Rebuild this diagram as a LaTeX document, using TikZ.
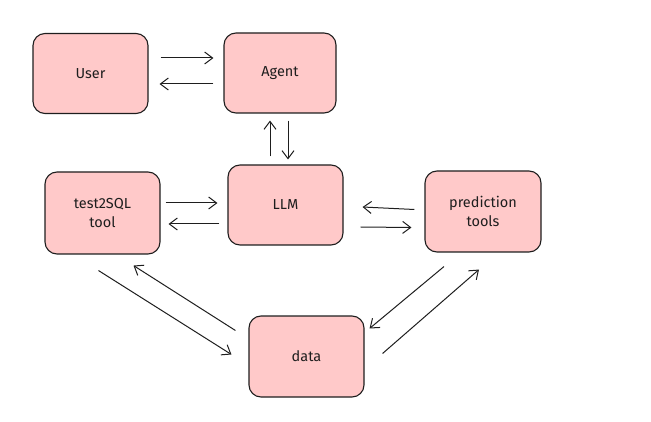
\documentclass[tikz,border=0pt]{standalone}
\usepackage{fontspec}
\setmainfont{Fira Sans}
\usetikzlibrary{arrows.meta}
\definecolor{boxfill}{HTML}{FFC9C9}
\definecolor{ink}{HTML}{1E1E1E}
\tikzset{
  box/.style={draw=ink, line width=1.1pt, fill=boxfill, rounded corners=12pt,
    minimum width=115pt, minimum height=80pt, align=center, inner sep=2pt,
    font=\fontsize{14.5}{19}\selectfont, text=ink},
  arr/.style={draw=ink, line width=1pt, -{Straight Barb[length=8pt,width=12pt,line width=1pt]}}
}
\begin{document}
\begin{tikzpicture}[x=1pt,y=-1pt]
\useasboundingbox (0,0) rectangle (651,422);
\node[box] (user)  at (90.5,73.5) {User};
\node[box, minimum width=112pt] (agent) at (280,73) {Agent};
\node[box, minimum height=82pt] (t2s) at (102.5,213) {test2SQL\\tool};
\node[box] (llm)   at (285.5,205) {LLM};
\node[box, minimum width=116pt, minimum height=81pt] (pred) at (483,211.5) {prediction\\tools};
\node[box, minimum height=81pt] (data)  at (306.5,356.5) {data};
% User <-> Agent
\draw[arr] ([shift={(12,-15.5)}]user.east) -- ([shift={(-10,-15)}]agent.west);
\draw[arr] ([shift={(-10,11)}]agent.west) -- ([shift={(11,10.5)}]user.east);
% Agent <-> LLM
\draw[arr] ([shift={(-15.5,-8)}]llm.north) -- ([shift={(-10,7)}]agent.south);
\draw[arr] ([shift={(8,7)}]agent.south) -- ([shift={(2.5,-5)}]llm.north);
% test2SQL <-> LLM
\draw[arr] ([shift={(5,-10)}]t2s.east) -- ([shift={(-10,-2)}]llm.west);
\draw[arr] ([shift={(-8,19)}]llm.west) -- ([shift={(8,11)}]t2s.east);
% prediction <-> LLM
\draw[arr] ([shift={(-10,-2)}]pred.west) -- ([shift={(19,2)}]llm.east);
\draw[arr] ([shift={(17,22)}]llm.east) -- ([shift={(-13,16)}]pred.west);
% test2SQL <-> data
\draw[arr] ([shift={(-4,16)}]t2s.south) -- ([shift={(-17,-2)}]data.west);
\draw[arr] ([shift={(-13,-26)}]data.west) -- ([shift={(31,11)}]t2s.south);
% prediction <-> data
\draw[arr] ([shift={(-39,14)}]pred.south) -- ([shift={(5,-28)}]data.east);
\draw[arr] ([shift={(18,-3)}]data.east) -- ([shift={(-4,17)}]pred.south);
\end{tikzpicture}
\end{document}
